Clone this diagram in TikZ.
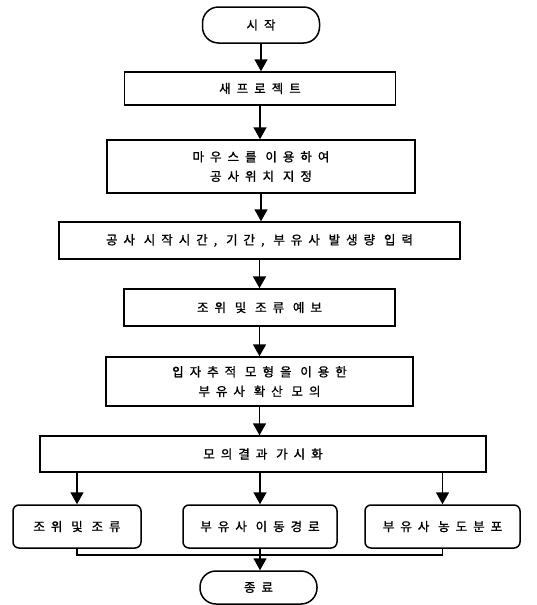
\documentclass[tikz,border=0pt]{standalone}
\usepackage{fontspec}
\newfontfamily\kr{Noto Sans CJK KR}[LetterSpace=48, FakeBold=1.2]
\usetikzlibrary{arrows.meta}
\tikzset{
  base/.style={draw=black, line width=1.5pt, align=center, font=\kr\fontsize{12.5}{19.5}\selectfont, inner sep=2pt},
  procbox/.style={base},
  term/.style={base, rounded corners=16pt},
  outbox/.style={base, rounded corners=6pt},
  conn/.style={line width=1.6pt},
  arr/.style={conn, -{Triangle[length=12pt,width=13pt]}}
}
\begin{document}
\begin{tikzpicture}[x=1pt,y=-1pt]
\useasboundingbox (0,0) rectangle (536,605);
\node[term, minimum width=117pt, minimum height=36pt] (start) at (261,25) {시작};
\node[procbox, minimum width=271pt, minimum height=33pt] (n2) at (260,88.5) {새프로젝트};
\node[procbox, minimum width=308pt, minimum height=53pt] (n3) at (261,166.5) {마우스를 이용하여\\공사위치 지정};
\node[procbox, minimum width=401pt, minimum height=37pt] (n4) at (259.5,240.5) {공사 시작시간, 기간, 부유사 발생량 입력};
\node[procbox, minimum width=271pt, minimum height=37pt] (n5) at (259.5,307.5) {조위 및 조류 예보};
\node[procbox, minimum width=307pt, minimum height=49pt] (n6) at (259.5,381.5) {입자추적 모형을 이용한\\부유사 확산 모의};
\node[procbox, minimum width=446pt, minimum height=36pt] (n7) at (263,454) {모의결과 가시화};
\node[outbox, minimum width=128pt, minimum height=43pt] (a) at (77,526.5) {조위 및 조류};
\node[outbox, minimum width=154pt, minimum height=43pt] (b) at (260,526.5) {부유사 이동경로};
\node[outbox, minimum width=155pt, minimum height=43pt] (c) at (442.5,526.5) {부유사 농도분포};
\node[term, minimum width=117pt, minimum height=33pt] (end) at (258.5,587.5) {종료};

\draw[arr] (start.south) -- (start.south |- n2.north);
\draw[arr] (n2.south) -- (n2.south |- n3.north);
\draw[arr] (n3.south) -- (n3.south |- n4.north);
\draw[arr] (n4.south) -- (n4.south |- n5.north);
\draw[arr] (n5.south) -- (n5.south |- n6.north);
\draw[arr] (n6.south) -- (n6.south |- n7.north);
\draw[arr] (a.north |- n7.south) -- (a.north);
\draw[arr] (b.north |- n7.south) -- (b.north);
\draw[arr] (c.north |- n7.south) -- (c.north);
\draw[conn] (a.south) -- ++(0,6) -| (c.south);
\draw[arr] (b.south) -- (b.south |- end.north);
\end{tikzpicture}
\end{document}
